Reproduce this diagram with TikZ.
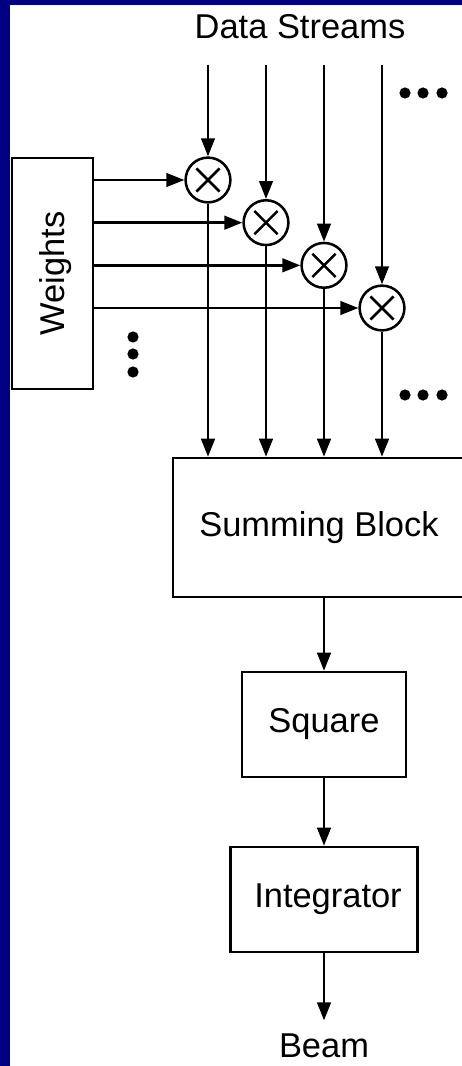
\documentclass[tikz,border=0pt]{standalone}
\usepackage{fontspec}
\setmainfont{Liberation Sans}
\usepackage{tikz}
\usetikzlibrary{arrows.meta,positioning}
\definecolor{slideblue}{RGB}{0,0,128}

\begin{document}
\begin{tikzpicture}[
      font=\fontsize{24.5}{29}\selectfont, >={Triangle[length=0.45cm,width=0.34cm]},
      blockbox/.style={rectangle, draw=black, fill=white, line width=1.8pt, inner sep=0pt},
      mixer/.style={circle, draw=black, fill=white, line width=1.8pt,
        minimum size=1.12cm, inner sep=0pt,
        path picture={\draw[line width=1.8pt]
          (path picture bounding box.center) +(-0.29,-0.29) -- +(0.29,0.29)
          (path picture bounding box.center) +(-0.29,0.29) -- +(0.29,-0.29);}},
      arr/.style={->, line width=1.8pt},
      lbl/.style={inner sep=0pt},
    ]
    \useasboundingbox (0,0) rectangle (11.55,-26.65);
    \clip (0,0) rectangle (11.55,-26.65);

    % ── SLIDE FRAME ─────────────────────────────────────────────
    \fill[slideblue] (0,0) rectangle (0.25,-26.65);
    \fill[slideblue] (0,0) rectangle (11.55,-0.125);

    % ── INPUTS ──────────────────────────────────────────────────
    \node[lbl, anchor=base] (streams) at (7.5,-0.975) {Data Streams};
    \coordinate (streamtop) at (0,-1.625);

    \node[blockbox, minimum width=2.025cm, minimum height=5.775cm] (weights) at (1.3125,-6.8375)
      {\rotatebox{90}{\raisebox{0pt}[\height][0pt]{Weights}}};

    % ── MULTIPLIERS ─────────────────────────────────────────────
    \foreach \i in {0,...,3} {
      \node[mixer] (m\i) at ({5.2+1.45*\i},{-4.5-1.0667*\i}) {};
    }

    % ── PROCESSING CHAIN ────────────────────────────────────────
    \node[blockbox, minimum width=7.3cm, minimum height=3.475cm] (sum) at (7.975,-13.1875) {Summing Block};
    \node[blockbox, minimum width=4.1cm, minimum height=2.625cm] (sq) at (8.1,-18.1125) {Square};
    \node[blockbox, minimum width=4.675cm, minimum height=2.625cm] (integ) at (8.1,-22.4875) {\hspace{0.2cm}Integrator};
    \node[lbl, anchor=base, inner ysep=9pt] (beam) at (8.1,-26.425) {Beam};

    \foreach \i in {0,...,3} {
      \draw[arr] (m\i |- streamtop) -- (m\i);
      \draw[arr] (weights.east |- m\i) -- (m\i);
      \draw[arr] (m\i) -- (m\i |- sum.north);
    }

    \draw[arr] (sq.north |- sum.south) -- (sq);
    \draw[arr] (sq) -- (integ);
    \draw[arr] (integ) -- (beam);

    % ── ELLIPSES ────────────────────────────────────────────────
    \foreach \x in {10.125,10.575,11.05} {
      \fill (\x,-2.325) circle (0.14);
      \fill (\x,-9.875) circle (0.14);
    }
    \foreach \y in {-8.425,-8.85,-9.3}
      \fill (3.325,\y) circle (0.14);

    \end{tikzpicture}
\end{document}
